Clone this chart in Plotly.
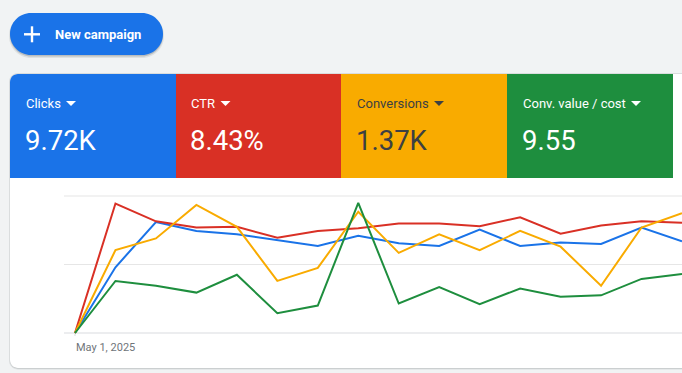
import plotly.graph_objects as go

W, H = 682, 373

# ---- data (normalised chart units) ----
dates = ["May %d, 2025" % d for d in range(1, 17)]
clicks = [0, 0.96, 1.62, 1.49, 1.44, 1.36, 1.27, 1.42, 1.31, 1.27, 1.51, 1.27, 1.32, 1.30, 1.54, 1.34]
ctr = [0, 1.89, 1.63, 1.54, 1.55, 1.39, 1.49, 1.53, 1.60, 1.60, 1.56, 1.69, 1.45, 1.57, 1.63, 1.61]
conversions = [0, 1.21, 1.38, 1.87, 1.55, 0.76, 0.95, 1.77, 1.17, 1.44, 1.21, 1.49, 1.26, 0.69, 1.54, 1.75]
conv_value_cost = [0, 0.76, 0.69, 0.59, 0.85, 0.29, 0.40, 1.90, 0.43, 0.67, 0.42, 0.65, 0.53, 0.55, 0.79, 0.86]

metric_names = ["Clicks", "CTR", "Conversions", "Conv. value / cost"]
metric_values = ["9.72K", "8.43%", "1.37K", "9.55"]
series = [clicks, ctr, conversions, conv_value_cost]
colors = ["#1a73e8", "#d93025", "#f9ab00", "#1e8e3e"]
text_colors = ["#ffffff", "#ffffff", "#3c4043", "#ffffff"]
grid_values = [0, 1, 2]


def X(px):
    return px / W


def Y(py):
    return 1 - py / H


def P(x, y):
    return f"{X(x):.5f},{Y(y):.5f}"


def rrect(x0, y0, x1, y1, rtl, rtr, rbr, rbl):
    k = 0.5523
    s = f"M {P(x0 + rtl, y0)} L {P(x1 - rtr, y0)} "
    s += f"C {P(x1 - rtr + k * rtr, y0)} {P(x1, y0 + rtr - k * rtr)} {P(x1, y0 + rtr)} "
    s += f"L {P(x1, y1 - rbr)} "
    s += f"C {P(x1, y1 - rbr + k * rbr)} {P(x1 - rbr + k * rbr, y1)} {P(x1 - rbr, y1)} "
    s += f"L {P(x0 + rbl, y1)} "
    s += f"C {P(x0 + rbl - k * rbl, y1)} {P(x0, y1 - rbl + k * rbl)} {P(x0, y1 - rbl)} "
    s += f"L {P(x0, y0 + rtl)} "
    s += f"C {P(x0, y0 + rtl - k * rtl)} {P(x0 + rtl - k * rtl, y0)} {P(x0 + rtl, y0)} Z"
    return s


shapes = []


def add_path(path, fill, line_color=None, line_width=0):
    shapes.append(dict(type="path", xref="paper", yref="paper", path=path,
                       fillcolor=fill, line=dict(color=line_color or fill, width=line_width),
                       layer="below"))


# button shadow + button
add_path(rrect(9, 13.5, 164, 58, 22, 22, 22, 22), "rgba(60,64,67,0.10)")
add_path(rrect(10, 14, 163, 56.5, 21, 21, 21, 21), "rgba(60,64,67,0.22)")
add_path(rrect(10, 13, 163, 55, 21, 21, 21, 21), "#1a73e8")

# card shadow + card
add_path(rrect(9, 73, 720, 369.5, 9, 9, 9, 9), "rgba(60,64,67,0.12)")
add_path(rrect(10, 74, 720, 368.5, 8, 8, 8, 8), "rgba(60,64,67,0.18)")
add_path(rrect(10, 74, 720, 368, 8, 8, 8, 8), "#ffffff")

# metric tiles
tile_x = [10, 176, 341, 507, 673]
for i in range(4):
    rtl = 8 if i == 0 else 0
    add_path(rrect(tile_x[i], 74, tile_x[i + 1], 178, rtl, 0, 0, 0), colors[i])

# plus icon
shapes.append(dict(type="line", xref="paper", yref="paper", x0=X(24), x1=X(40), y0=Y(34.3), y1=Y(34.3),
                   line=dict(color="white", width=2.4)))
shapes.append(dict(type="line", xref="paper", yref="paper", x0=X(32), x1=X(32), y0=Y(26.3), y1=Y(42.3),
                   line=dict(color="white", width=2.4)))

# dropdown arrows
arrow_x = [66, 220.5, 434, 631]
for i in range(4):
    ax = arrow_x[i]
    shapes.append(dict(type="path", xref="paper", yref="paper",
                       path=f"M {P(ax, 101)} L {P(ax + 10, 101)} L {P(ax + 5, 106)} Z",
                       fillcolor=text_colors[i], line=dict(width=0)))

annotations = [dict(text="New campaign", x=X(53), y=Y(34.5), xref="paper", yref="paper",
                    xanchor="left", yanchor="middle", showarrow=False,
                    font=dict(family="Roboto", size=13, color="white", weight="bold"))]

label_x = [25, 190.5, 356, 521.5]
for i in range(4):
    annotations.append(dict(text=metric_names[i], x=X(label_x[i] - 1), y=Y(104), xref="paper", yref="paper",
                            xanchor="left", yanchor="middle", showarrow=False,
                            font=dict(family="Roboto", size=13, color=text_colors[i])))
    annotations.append(dict(text=metric_values[i], x=X(label_x[i] - 2), y=Y(140), xref="paper", yref="paper",
                            xanchor="left", yanchor="middle", showarrow=False,
                            font=dict(family="Roboto", size=27.5, color=text_colors[i])))

annotations.append(dict(text=dates[0], x=X(74), y=Y(347), xref="paper", yref="paper",
                        xanchor="left", yanchor="middle", showarrow=False,
                        font=dict(family="Roboto", size=11, color="#70757a")))

# gridlines (data units on y)
for g in grid_values:
    shapes.append(dict(type="line", xref="paper", yref="y", x0=X(64), x1=1.0, y0=g, y1=g,
                       line=dict(color="#dadce0" if g == 0 else "#e6e6e6", width=1.2), layer="below"))
# small tick under first date
shapes.append(dict(type="line", xref="paper", yref="paper", x0=X(75), x1=X(75), y0=Y(333), y1=Y(336),
                   line=dict(color="#dadce0", width=1), layer="below"))

fig = go.Figure()
for s, c in zip(series, colors):
    fig.add_trace(go.Scatter(x=list(range(len(dates))), y=s, mode="lines",
                             line=dict(color=c, width=2), hoverinfo="skip", showlegend=False))

# pixel geometry of plot area
step = (682 - 75) / 15
x_lo = -0.2
x_dom0 = (75 + x_lo * step) / W
unit = 68.5
y_top_px, y_bot_px = 190, 340
y_lo = (333 - y_bot_px) / unit
y_hi = (333 - y_top_px) / unit

fig.update_layout(
    width=W, height=H, margin=dict(l=0, r=0, t=0, b=0),
    paper_bgcolor="#f1f3f4", plot_bgcolor="rgba(0,0,0,0)",
    xaxis=dict(domain=[x_dom0, 1.0], range=[x_lo, 15], visible=False, fixedrange=True),
    yaxis=dict(domain=[Y(y_bot_px), Y(y_top_px)], range=[y_lo, y_hi], visible=False, fixedrange=True),
    shapes=shapes, annotations=annotations, showlegend=False,
)

fig.write_html("out.html", config=dict(displayModeBar=False),
               post_script="document.body.style.margin='0';document.body.style.overflow='hidden';")
